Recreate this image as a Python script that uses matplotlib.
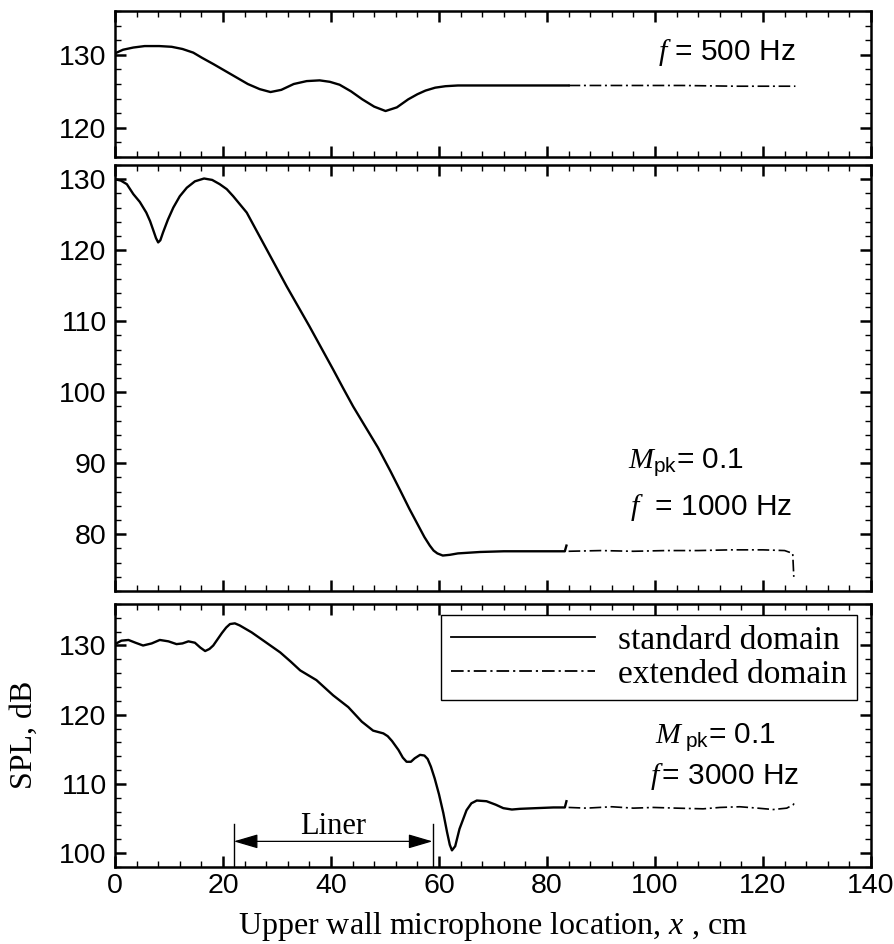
import matplotlib
matplotlib.use("Agg")
import matplotlib.pyplot as plt
from matplotlib.ticker import MultipleLocator

plt.rcParams.update({
    'font.family': ['Liberation Sans', 'DejaVu Sans'],
    'mathtext.fontset': 'custom',
    'mathtext.it': 'Liberation Serif:italic',
    'mathtext.rm': 'Liberation Sans',
    'mathtext.sf': 'Liberation Sans',
})

# ---------------- data ----------------
# f = 500 Hz
x500_std = [0, 1.5, 3.4, 5.5, 8.2, 10.5, 12.5, 14.5, 16.1, 18.3, 20.4, 22.5, 24.6, 26.8, 28.8, 30.8,
            33.1, 35.5, 37.9, 39.8, 41.6, 43.7, 45.8, 48.0, 50.1, 52.2, 54.3, 56.0, 57.5, 59.3,
            61.2, 63.5, 66, 72, 78, 84]
y500_std = [130.2, 130.7, 131.0, 131.2, 131.2, 131.1, 130.8, 130.3, 129.6, 128.7, 127.8, 126.9,
            126.0, 125.3, 124.9, 125.2, 126.0, 126.4, 126.5, 126.3, 125.9, 125.0, 123.9, 122.9,
            122.3, 122.8, 123.9, 124.6, 125.1, 125.5, 125.7, 125.8, 125.8, 125.8, 125.8, 125.8]
x500_ext = [84, 95, 105, 115, 126]
y500_ext = [125.8, 125.8, 125.8, 125.7, 125.7]

# M_pk = 0.1, f = 1000 Hz
x1000_std = [0, 1.1, 2.2, 3.4, 4.6, 5.8, 6.5, 7.1, 7.6, 8.0, 8.4, 8.9, 9.8, 10.8, 12.0, 13.3, 14.8,
             16.5, 18.0, 19.4, 20.7, 21.9, 24.4, 28.1, 31.8, 36.0, 40.4, 42.3, 44.1, 46.0, 48.7,
             51.0, 52.8, 54.5, 55.9, 57.3, 58.3, 59.0, 59.7, 60.7, 62.0, 63.5, 67.6, 72.0, 78.0,
             83.3, 83.6]
y1000_std = [130.0, 129.8, 129.3, 127.9, 126.8, 125.3, 124.1, 122.8, 121.7, 121.1, 121.4, 122.5,
             124.3, 126.0, 127.6, 128.8, 129.7, 130.1, 129.9, 129.3, 128.6, 127.6, 125.3, 120.1,
             114.9, 109.3, 103.2, 100.5, 98.0, 95.6, 92.2, 88.9, 86.2, 83.6, 81.6, 79.6, 78.4,
             77.7, 77.3, 77.0, 77.1, 77.3, 77.5, 77.6, 77.6, 77.6, 78.4]
x1000_ext = [84, 90, 96, 102, 108, 114, 120, 124, 125.5, 125.7]
y1000_ext = [77.6, 77.7, 77.6, 77.7, 77.7, 77.8, 77.8, 77.7, 77.3, 74.0]

# M_pk = 0.1, f = 3000 Hz
x3000_std = [0, 1.2, 2.5, 3.8, 5.2, 6.8, 8.3, 9.9, 11.4, 12.5, 13.6, 14.8, 15.8, 16.7, 17.5, 18.2,
             19.0, 19.8, 20.6, 21.3, 22.2, 23.1, 25.3, 27.5, 30.6, 32.5, 34.3, 37.3, 40.4, 43.2,
             45.7, 47.8, 49.7, 50.5, 51.3, 52.5, 53.3, 54.0, 54.8, 55.5, 56.5, 57.3, 57.9, 58.5,
             59.2, 60.0, 60.8, 61.5, 62.0, 62.4, 63.0, 63.8, 65.1, 66.0, 67.0, 68.8, 70.5, 71.9,
             73.5, 75.0, 78.0, 81.2, 83.3, 83.6]
y3000_std = [130.2, 130.7, 130.8, 130.4, 130.0, 130.3, 130.8, 130.6, 130.2, 130.3, 130.6, 130.4,
             129.7, 129.2, 129.5, 130.0, 130.9, 131.8, 132.6, 133.1, 133.2, 132.9, 131.9, 130.7,
             129.0, 127.7, 126.4, 125.0, 122.8, 121.1, 119.0, 117.7, 117.3, 116.9, 116.2, 114.9,
             113.8, 113.2, 113.2, 113.7, 114.2, 114.1, 113.6, 112.5, 110.8, 108.5, 105.8, 103.0,
             101.2, 100.4, 101.0, 103.5, 106.2, 107.2, 107.6, 107.5, 107.0, 106.5, 106.3, 106.4,
             106.5, 106.6, 106.6, 107.5]
x3000_ext = [84, 87.3, 92, 96, 99.7, 104, 108.9, 112, 115.7, 119, 121.9, 124.4, 125.6, 126]
y3000_ext = [106.6, 106.5, 106.7, 106.5, 106.6, 106.5, 106.4, 106.6, 106.7, 106.5, 106.3, 106.5, 107.0, 107.5]

liner_start, liner_end = 22.0, 58.8

# ---------------- figure ----------------
fig = plt.figure(figsize=(8.94, 9.44), dpi=100)
L, W = 0.1286, 0.8457
ax1 = fig.add_axes([L, 0.8337, W, 0.1546])
ax2 = fig.add_axes([L, 0.3739, W, 0.4513])
ax3 = fig.add_axes([L, 0.0816, W, 0.2786])

dash = (0, (7, 2.2, 1.2, 2.2))
LW = 1.7

for ax in (ax1, ax2, ax3):
    ax.set_xlim(0, 140)
    ax.xaxis.set_major_locator(MultipleLocator(20))
    ax.xaxis.set_minor_locator(MultipleLocator(4))
    ax.yaxis.set_major_locator(MultipleLocator(10))
    ax.yaxis.set_minor_locator(MultipleLocator(2))
    ax.tick_params(which='both', direction='in', top=True, right=True, labelsize=20.5)
    ax.tick_params(which='major', length=8, width=1.8)
    ax.tick_params(which='minor', length=4.5, width=1.0)
    ax.tick_params(axis='y', pad=6)
    ax.tick_params(axis='x', pad=4)
    for s in ax.spines.values():
        s.set_linewidth(1.8)

ax1.tick_params(labelbottom=False)
ax2.tick_params(labelbottom=False)

# top panel
ax1.plot(x500_std, y500_std, color='black', lw=LW)
ax1.plot(x500_ext, y500_ext, color='black', lw=1.2, linestyle=dash)
ax1.set_ylim(116, 136)
ax1.text(126, 130.3, r'$f$ = 500 Hz', ha='right', va='center', fontsize=21.5)

# middle panel
ax2.plot(x1000_std, y1000_std, color='black', lw=LW)
ax2.plot(x1000_ext, y1000_ext, color='black', lw=1.2, linestyle=dash)
ax2.set_ylim(72, 132)
ax2.text(95, 90.2, r'$M_{\mathrm{pk}}$= 0.1', ha='left', va='center', fontsize=21.5)
ax2.text(95.3, 83.7, r'$f$  = 1000 Hz', ha='left', va='center', fontsize=21.5)

# bottom panel
l1, = ax3.plot(x3000_std, y3000_std, color='black', lw=LW)
l2, = ax3.plot(x3000_ext, y3000_ext, color='black', lw=1.2, linestyle=dash)
ax3.set_ylim(98, 136)
ax3.set_xticks([0, 20, 40, 60, 80, 100, 120, 140])
ax3.text(100, 116.8, r'$M_{\ \mathrm{pk}}$= 0.1', ha='left', va='center', fontsize=21.5)
ax3.text(126.8, 111.0, r'$f\,$= 3000 Hz', ha='right', va='center', fontsize=21.5)

# liner annotation
for xv in (liner_start, liner_end):
    ax3.plot([xv, xv], [98, 104.2], color='black', lw=1.0)
ax3.annotate('', xy=(liner_start, 101.7), xytext=(liner_end, 101.7),
             arrowprops=dict(arrowstyle='<|-|>,head_length=0.75,head_width=0.22',
                             color='black', lw=0.9, shrinkA=0, shrinkB=0,
                             mutation_scale=20))
ax3.text((liner_start + liner_end) / 2, 103.9, 'Liner', ha='center', va='center',
         fontsize=22, family='Liberation Serif')

leg = ax3.legend([l1, l2], ['standard domain', 'extended domain'],
                 loc='upper right', bbox_to_anchor=(0.9815, 0.958), borderaxespad=0,
                 prop={'family': 'Liberation Serif', 'size': 24},
                 handlelength=4.3, handletextpad=0.7, labelspacing=0.12,
                 borderpad=0.3, fancybox=False, framealpha=1, edgecolor='black')
leg.get_frame().set_linewidth(1.0)
for h in leg.get_lines():
    h.set_linewidth(1.3)

ax3.set_xlabel(r'Upper wall microphone location, $x$ , cm', family='Liberation Serif',
               fontsize=23, labelpad=8)
fig.text(24 / 894, 1 - 735 / 944, 'SPL, dB', rotation=90, ha='center', va='center',
         family='Liberation Serif', fontsize=23)

fig.savefig('out.png', dpi=100)
